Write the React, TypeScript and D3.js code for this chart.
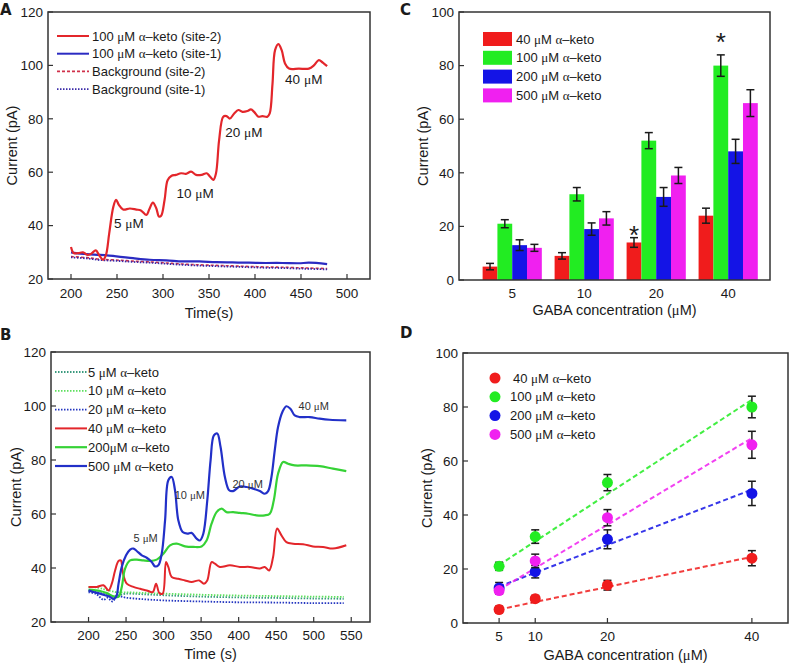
import * as d3 from 'd3';

// ---- panel A: amperometric traces (site-1 / site-2) ----
const timeA = [200, 203, 208, 213, 218, 222, 227, 231, 235, 238, 241.5, 246, 249, 252, 256.6, 264, 271, 276, 282, 285, 289, 292.7, 295.6, 298, 301.7, 305, 309, 314, 319.7, 325, 330.5, 336, 342, 347.5, 351, 354.7, 357.6, 361, 365.5, 369, 372.7, 377.4, 382, 386.4, 391.8, 395.5, 399, 403.7, 408, 413.5, 416, 419, 421.8, 425.4, 429, 432.6, 437, 447.7, 458.6, 464, 469.4, 473.7, 478.4];
const site2A = [32, 29.7, 29.7, 30, 29, 29.5, 30.7, 28.7, 27.2, 29, 37, 47, 49.6, 47.8, 46, 46.4, 46, 45.7, 44, 46, 48.6, 46.5, 43.4, 43.7, 49.6, 57, 58.6, 59, 59.6, 59.4, 60.2, 59, 59, 59.6, 58.4, 57.1, 59.6, 72, 80.8, 81, 80.1, 82, 83.3, 82.6, 82.9, 83.5, 82.6, 80.8, 81, 80.8, 82, 93, 105.7, 108, 105.7, 100.7, 98.8, 98.8, 98.8, 100, 102, 101, 99.7];
const timeA1 = [200, 217, 231.4, 249.4, 267.4, 285.5, 303.5, 321.5, 339.6, 357.6, 375.6, 393.6, 411.7, 429.7, 447.7, 458.6, 478.4];
const site1A = [30, 29.3, 29, 28.5, 27.8, 27.2, 27, 26.6, 26.6, 26.3, 26.2, 26.1, 26, 26, 25.9, 26.1, 25.6];
const bg2A = [28.4, 28, 27.4, 27.1, 26.7, 26.4, 26, 25.6, 25.3, 25.1, 24.9, 24.7, 24.5, 24.4, 24.2, 24.1, 23.9];
const bg1A = [28.1, 27.7, 27.1, 26.8, 26.4, 26.1, 25.7, 25.3, 25, 24.8, 24.6, 24.4, 24.2, 24.1, 23.9, 23.8, 23.6];

// ---- panel B: different alpha-keto concentrations ----
const timeB500 = [200, 206.6, 215.5, 222, 228.8, 233, 236.8, 240, 244.3, 250, 255.4, 259.8, 264.2, 271, 277.5, 284.2, 288.6, 293, 297.5, 302, 306.3, 310.8, 315.2, 319.6, 325.4, 331.6, 337.3, 344, 348.4, 352.9, 358.2, 362.6, 367, 371.5, 375.9, 381.7, 387.4, 392.7, 401.6, 410.5, 419.3, 428.2, 434.8, 439.3, 443.7, 448.1, 452.5, 458.3, 463.6, 468.9, 474.7, 481.3, 494.6, 507.9, 521.2, 543.4];
const cur500 = [31.7, 31.1, 30.5, 29.9, 29.3, 28.6, 29.3, 34.2, 40.4, 44.7, 46.8, 47.2, 46.3, 44.7, 43.8, 42.2, 40.6, 41, 45.3, 57.7, 72.5, 73.7, 68.8, 57.7, 53.3, 52.7, 53, 50.9, 50.2, 52.7, 65, 79.9, 89.1, 89.8, 84.8, 73.7, 68.8, 68.5, 70.2, 70, 69.4, 68.5, 67.5, 68.5, 73.7, 83.6, 92.2, 97.8, 99.9, 99, 96.5, 95.9, 95.9, 95.3, 94.9, 94.7];
const timeB200 = [200, 215.5, 224.4, 233, 240, 244.3, 248.7, 255.4, 264.2, 273, 282, 290.8, 299.7, 308.6, 317.4, 328.5, 339.6, 350.6, 357.3, 363.9, 370.6, 377.2, 383.9, 392.7, 401.6, 412.7, 423.7, 434.8, 441.5, 446.8, 452.5, 459.2, 465.8, 474.7, 490.2, 507.9, 525.6, 543.4];
const cur200 = [32, 31.5, 30.7, 29.5, 29.3, 33, 39.8, 42.8, 43.1, 42.8, 42.6, 43.1, 45.3, 48.4, 49, 48, 47.8, 48, 50.2, 56.4, 60.7, 62, 60.7, 60.7, 60.4, 60.1, 59.5, 59.5, 60.1, 65, 74.9, 79.3, 78.6, 78, 78, 77.7, 76.8, 75.9];
const timeB40 = [200, 211, 219.9, 226.6, 231, 235.4, 239.9, 243, 245.6, 250.9, 259.8, 268.7, 277.5, 285.5, 290, 294.4, 298.8, 303.2, 306.3, 310.8, 319.6, 328.5, 337.3, 347.5, 353.7, 358.2, 363.9, 368.4, 375, 388.3, 401.6, 414.9, 428.2, 434.8, 440.6, 445.9, 451.2, 457, 463.6, 472.5, 485.8, 499, 512.4, 525.6, 543.4];
const cur40 = [33, 33, 33.6, 31.7, 34.2, 39.1, 42.6, 42.8, 38.5, 34.2, 33, 32.3, 31.7, 31.1, 34.2, 30.7, 30.5, 42.2, 40.4, 36.7, 36, 35.4, 34.8, 35.4, 34.2, 35.4, 42.2, 41.6, 40.4, 41, 40.4, 40.4, 39.8, 40.4, 39.1, 44.1, 54.6, 52.1, 49.6, 49, 48.8, 48, 47.8, 47.2, 48.4];
const timeBlow = [200, 210, 220, 225, 232, 238, 250, 270, 300, 350, 400, 450, 500, 540];
const cur5 = [31.5, 31.2, 30.4, 30, 29.5, 29.8, 30.5, 30.3, 29.9, 29.4, 29.1, 28.9, 28.7, 28.6];
const cur10 = [33, 32.8, 32.2, 31.8, 31.3, 31, 31, 30.8, 30.5, 30.1, 29.8, 29.6, 29.4, 29.3];
const cur20 = [31, 30.4, 28.2, 29, 27.6, 29.5, 29, 28.5, 28, 27.6, 27.3, 27.2, 27, 27];

// ---- panels C & D: GABA calibration ----
const gabaConc = [5, 10, 20, 40];
const ketoLabels = ['40 μM α–keto', '100 μM α–keto', '200 μM α–keto', '500 μM α–keto'];
const ketoColors = ['#f01c1c', '#22ec22', '#1414e6', '#f020f0'];
const meanCurrent = [
  [5, 9, 14, 24],
  [21, 32, 52, 80],
  [13, 19, 31, 48],
  [12, 23, 39, 66],
];
const errCurrent = [
  [1.2, 1.2, 1.8, 2.8],
  [1.5, 2.5, 3, 4],
  [2, 2.3, 3.5, 4.5],
  [1.3, 2.5, 3, 5],
];
// fitted line ends (at 5 and 40 µM)
const fitEnds = [
  [5, 24.5],
  [21.5, 82.7],
  [13.5, 49.4],
  [12.3, 68.5],
];
// significance marks in panel C: [group, series, value]
const starMarks = [
  [2, 0, 19.5],
  [3, 1, 91.5],
];

const FONT = 'Liberation Sans, Arial, sans-serif';
const INK = '#1a1a1a';

// µ and α are set in a serif face like the original
function label(s: string) {
  const parts = s.split(/([μα])/);
  return parts.map((p, i) =>
    p === 'μ' || p === 'α' ? (
      <tspan key={i} fontFamily="Liberation Serif, serif">{p}</tspan>
    ) : (
      <tspan key={i}>{p}</tspan>
    )
  );
}

type Frame = {
  x: any; y: any; left: number; right: number; top: number; bottom: number;
  xTicks: any[]; yTicks: number[]; xTickInward?: boolean;
  xTitle: string; yTitle: string; yTitleX: number; tickGap: number; titleGap: number;
  letter: string; letterX: number; letterY: number;
};

function Axes(f: Frame) {
  return (
    <g fontFamily={FONT} fill={INK}>
      <rect x={f.left} y={f.top} width={f.right - f.left} height={f.bottom - f.top}
        fill="none" stroke="#333" strokeWidth={1.5} />
      {f.yTicks.map(t => (
        <g key={'y' + t}>
          <line x1={f.left} x2={f.left + 5} y1={f.y(t)} y2={f.y(t)} stroke="#333" strokeWidth={1.2} />
          <text x={f.left - 5} y={f.y(t)} dy="0.36em" textAnchor="end" fontSize={13.5}>{t}</text>
        </g>
      ))}
      {f.xTicks.map(t => (
        <g key={'x' + t}>
          {f.xTickInward !== false && (
            <line x1={f.x(t)} x2={f.x(t)} y1={f.bottom} y2={f.bottom - 5} stroke="#333" strokeWidth={1.2} />
          )}
          <text x={f.x(t)} y={f.bottom + f.tickGap} textAnchor="middle" fontSize={13.5}>{t}</text>
        </g>
      ))}
      <text x={(f.left + f.right) / 2} y={f.bottom + f.titleGap} textAnchor="middle" fontSize={14.5}>
        {label(f.xTitle)}
      </text>
      <text transform={`translate(${f.yTitleX},${(f.top + f.bottom) / 2}) rotate(-90)`}
        textAnchor="middle" dy="0.36em" fontSize={14.5}>{f.yTitle}</text>
      <text x={f.letterX} y={f.letterY} fontSize={15} fontWeight={900} fontFamily="DejaVu Sans, sans-serif">{f.letter}</text>
    </g>
  );
}

function PanelA() {
  const left = 48, right = 370, top = 12, bottom = 279;
  const x = d3.scaleLinear().domain([175, 525]).range([left, right]);
  const y = d3.scaleLinear().domain([20, 120]).range([bottom, top]);
  const mk = (ts: number[], vs: number[]) =>
    d3.line<number>().x((_, i) => x(ts[i])).y(v => y(v)).curve(d3.curveCatmullRom)(vs) || '';
  const legend = [
    { t: '100 μM α–keto (site-2)', c: '#e3262b', dash: '', w: 2 },
    { t: '100 μM α–keto (site-1)', c: '#2b2bc2', dash: '', w: 2 },
    { t: 'Background (site-2)', c: '#d0304a', dash: '3,2', w: 1.6 },
    { t: 'Background (site-1)', c: '#3a2aa8', dash: '1.5,1.5', w: 1.8 },
  ];
  const notes = [
    { t: '5 μM', x: 263, y: 41 },
    { t: '10 μM', x: 335, y: 52 },
    { t: '20 μM', x: 388, y: 75 },
    { t: '40 μM', x: 453, y: 95 },
  ];
  return (
    <g>
      <Axes x={x} y={y} left={left} right={right} top={top} bottom={bottom}
        xTicks={[200, 250, 300, 350, 400, 450, 500]} yTicks={[20, 40, 60, 80, 100, 120]}
        xTitle="Time(s)" yTitle="Current (pA)" yTitleX={12} tickGap={19} titleGap={39}
        letter="A" letterX={0} letterY={15} />
      <path d={mk(timeA1, bg2A)} fill="none" stroke="#d0304a" strokeWidth={1.6} strokeDasharray="3,2" />
      <path d={mk(timeA1, bg1A)} fill="none" stroke="#3a2aa8" strokeWidth={1.8} strokeDasharray="1.5,1.5" />
      <path d={mk(timeA1, site1A)} fill="none" stroke="#2b2bc2" strokeWidth={2.2} />
      <path d={mk(timeA, site2A)} fill="none" stroke="#e3262b" strokeWidth={2.2} />
      {notes.map(n => (
        <text key={n.t} x={x(n.x)} y={y(n.y)} dy="0.36em" textAnchor="middle" fontSize={13.5} fontFamily={FONT} fill={INK}>
          {label(n.t)}
        </text>
      ))}
      {legend.map((l, i) => (
        <g key={l.t} transform={`translate(57,${36 + i * 17.7})`}>
          <line x1={0} x2={32} stroke={l.c} strokeWidth={l.w} strokeDasharray={l.dash || undefined} />
          <text x={35} dy="0.36em" fontSize={13} fontFamily={FONT} fill={INK}>{label(l.t)}</text>
        </g>
      ))}
    </g>
  );
}

function PanelB() {
  const left = 51, right = 370, top = 352, bottom = 622;
  const x = d3.scaleLinear().domain([150, 575]).range([left, right]);
  const y = d3.scaleLinear().domain([20, 120]).range([bottom, top]);
  const mk = (ts: number[], vs: number[]) =>
    d3.line<number>().x((_, i) => x(ts[i])).y(v => y(v)).curve(d3.curveCatmullRom)(vs) || '';
  const series = [
    { t: '5 μM α–keto', ts: timeBlow, vs: cur5, c: '#3a9a7e', dash: '1.5,1.5', w: 1.8 },
    { t: '10 μM α–keto', ts: timeBlow, vs: cur10, c: '#5fe05f', dash: '1.5,1.5', w: 1.8 },
    { t: '20 μM α–keto', ts: timeBlow, vs: cur20, c: '#2436c0', dash: '1.5,1.5', w: 1.8 },
    { t: '40 μM α–keto', ts: timeB40, vs: cur40, c: '#e3262b', dash: '', w: 2 },
    { t: '200μM α–keto', ts: timeB200, vs: cur200, c: '#36d236', dash: '', w: 2.2 },
    { t: '500 μM α–keto', ts: timeB500, vs: cur500, c: '#2230c8', dash: '', w: 2.2 },
  ];
  const notes = [
    { t: '5 μM', x: 276, y: 51 },
    { t: '10 μM', x: 335, y: 67 },
    { t: '20 μM', x: 412, y: 71 },
    { t: '40 μM', x: 500, y: 100 },
  ];
  return (
    <g>
      <Axes x={x} y={y} left={left} right={right} top={top} bottom={bottom}
        xTicks={[200, 250, 300, 350, 400, 450, 500, 550]} yTicks={[20, 40, 60, 80, 100, 120]}
        xTitle="Time (s)" yTitle="Current (pA)" yTitleX={16} tickGap={18} titleGap={37}
        letter="B" letterX={0} letterY={340} />
      {series.map(s => (
        <path key={s.t} d={mk(s.ts, s.vs)} fill="none" stroke={s.c} strokeWidth={s.w}
          strokeDasharray={s.dash || undefined} />
      ))}
      {notes.map(n => (
        <text key={n.t} x={x(n.x)} y={y(n.y)} dy="0.36em" textAnchor="middle" fontSize={11} fontFamily={FONT} fill="#333">
          {label(n.t)}
        </text>
      ))}
      {series.map((s, i) => (
        <g key={'lg' + s.t} transform={`translate(55,${372 + i * 18.8})`}>
          <line x1={0} x2={32} stroke={s.c} strokeWidth={s.w} strokeDasharray={s.dash || undefined} />
          <text x={33} dy="0.36em" fontSize={13} fontFamily={FONT} fill={INK}>{label(s.t)}</text>
        </g>
      ))}
    </g>
  );
}

function PanelC() {
  const left = 459, right = 770, top = 12, bottom = 280;
  const cats = gabaConc.map(String);
  const x = d3.scalePoint<string>().domain(cats).range([left, right]).padding(0.66).align(0.56);
  const y = d3.scaleLinear().domain([0, 100]).range([bottom, top]);
  const bw = 14.8;
  return (
    <g>
      {meanCurrent.map((row, s) => row.map((v, g) => {
        const cx = (x(cats[g]) as number) + (s - 1.5) * bw;
        const e = errCurrent[s][g];
        return (
          <g key={s + '-' + g}>
            <rect x={cx - bw / 2} y={y(v)} width={bw} height={bottom - y(v)} fill={ketoColors[s]} />
            <line x1={cx} x2={cx} y1={y(v + e)} y2={y(v - e)} stroke={INK} strokeWidth={1.5} />
            <line x1={cx - 4} x2={cx + 4} y1={y(v + e)} y2={y(v + e)} stroke={INK} strokeWidth={1.5} />
            <line x1={cx - 4} x2={cx + 4} y1={y(v - e)} y2={y(v - e)} stroke={INK} strokeWidth={1.5} />
          </g>
        );
      }))}
      <Axes x={x} y={y} left={left} right={right} top={top} bottom={bottom}
        xTicks={cats} yTicks={[0, 20, 40, 60, 80, 100]} xTickInward={false}
        xTitle="GABA concentration (μM)" yTitle="Current (pA)" yTitleX={423} tickGap={18} titleGap={35}
        letter="C" letterX={400} letterY={15} />
      {starMarks.map(([g, s, v]) => (
        <text key={'st' + g} x={(x(cats[g]) as number) + (s - 1.5) * bw} y={y(v)} dy="0.62em"
          textAnchor="middle" fontSize={26} fontFamily={FONT} fill={INK}>*</text>
      ))}
      {ketoLabels.map((t, i) => (
        <g key={t} transform={`translate(483,${39 + i * 18.8})`}>
          <rect x={0} y={-7} width={29} height={14} fill={ketoColors[i]} />
          <text x={33} dy="0.36em" fontSize={13} fontFamily={FONT} fill={INK}>{label(t)}</text>
        </g>
      ))}
    </g>
  );
}

function PanelD() {
  const left = 463, right = 788, top = 353, bottom = 623;
  const x = d3.scaleLinear().domain([0, 45]).range([left, right]);
  const y = d3.scaleLinear().domain([0, 100]).range([bottom, top]);
  return (
    <g>
      <Axes x={x} y={y} left={left} right={right} top={top} bottom={bottom}
        xTicks={gabaConc} yTicks={[0, 20, 40, 60, 80, 100]}
        xTitle="GABA concentration (μM)" yTitle="Current (pA)" yTitleX={427} tickGap={18} titleGap={37}
        letter="D" letterX={400} letterY={338} />
      {fitEnds.map((fe, s) => (
        <line key={'fit' + s} x1={x(5)} x2={x(40)} y1={y(fe[0])} y2={y(fe[1])}
          stroke={ketoColors[s]} strokeWidth={2} strokeDasharray="5,3" opacity={0.85} />
      ))}
      {meanCurrent.map((row, s) => row.map((v, g) => {
        const cx = x(gabaConc[g]);
        const e = errCurrent[s][g];
        return (
          <g key={s + '-' + g}>
            <line x1={cx} x2={cx} y1={y(v + e)} y2={y(v - e)} stroke={INK} strokeWidth={1.5} />
            <line x1={cx - 4} x2={cx + 4} y1={y(v + e)} y2={y(v + e)} stroke={INK} strokeWidth={1.5} />
            <line x1={cx - 4} x2={cx + 4} y1={y(v - e)} y2={y(v - e)} stroke={INK} strokeWidth={1.5} />
            <circle cx={cx} cy={y(v)} r={5.5} fill={ketoColors[s]} />
          </g>
        );
      }))}
      {ketoLabels.map((t, i) => (
        <g key={t} transform={`translate(495,${378 + i * 18.8})`}>
          <circle r={5.5} fill={ketoColors[i]} />
          <text x={i === 0 ? 18 : 15} dy="0.36em" fontSize={13} fontFamily={FONT} fill={INK}>{label(t)}</text>
        </g>
      ))}
    </g>
  );
}

export default function App() {
  return (
    <svg width={800} height={665} style={{ position: 'absolute', left: 0, top: 0, background: '#fff' }}>
      <PanelA />
      <PanelB />
      <PanelC />
      <PanelD />
    </svg>
  );
}
